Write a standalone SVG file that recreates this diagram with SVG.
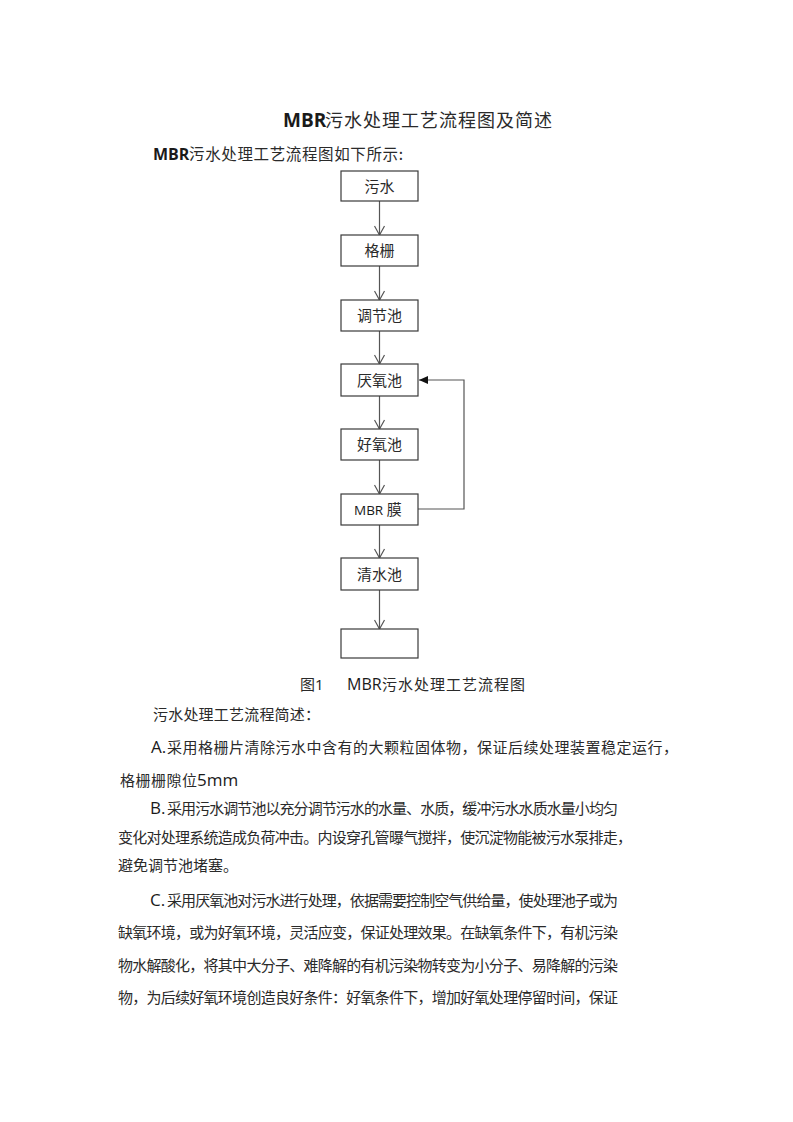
<svg xmlns="http://www.w3.org/2000/svg" width="793" height="1122" viewBox="0 0 793 1122">
<style>
.cn{font-family:"Noto Sans CJK SC","Noto Sans",sans-serif;fill:#2a2a2a;}
.lat{font-family:"Open Sans","Liberation Sans",sans-serif;fill:#1a1a1a;}
.box{fill:#fff;stroke:#3a3a3a;stroke-width:1.2;}
.bt{font-family:"Noto Sans CJK SC",sans-serif;font-size:15px;fill:#2a2a2a;text-anchor:middle;}
.ln{stroke:#555;stroke-width:1.2;fill:none;}
</style>
<defs>
<marker id="open" markerWidth="12" markerHeight="12" refX="10" refY="6" orient="auto" markerUnits="userSpaceOnUse">
<path d="M1,1 L10,6 L1,11" fill="none" stroke="#555" stroke-width="1.2"/>
</marker>
<marker id="fill" markerWidth="12" markerHeight="12" refX="10" refY="6" orient="auto" markerUnits="userSpaceOnUse">
<path d="M1,2 L10,6 L1,10 Z" fill="#111"/>
</marker>
</defs>
<rect width="793" height="1122" fill="#fff"/>

<text class="lat" x="283" y="127" font-size="19" font-weight="bold">MBR</text>
<text class="cn" x="325" y="127" font-size="18" textLength="227" lengthAdjust="spacing">污水处理工艺流程图及简述</text>

<text class="lat" x="153" y="160" font-size="16" font-weight="bold">MBR</text>
<text class="cn" x="189" y="160" font-size="15.5" textLength="214" lengthAdjust="spacing">污水处理工艺流程图如下所示:</text>

<g id="connectors">
<line class="ln" x1="379.5" y1="201" x2="379.5" y2="235" marker-end="url(#open)"/>
<line class="ln" x1="379.5" y1="266" x2="379.5" y2="300" marker-end="url(#open)"/>
<line class="ln" x1="379.5" y1="331" x2="379.5" y2="364" marker-end="url(#open)"/>
<line class="ln" x1="379.5" y1="396" x2="379.5" y2="429" marker-end="url(#open)"/>
<line class="ln" x1="379.5" y1="460" x2="379.5" y2="494" marker-end="url(#open)"/>
<line class="ln" x1="379.5" y1="525" x2="379.5" y2="558" marker-end="url(#open)"/>
<line class="ln" x1="379.5" y1="590" x2="379.5" y2="629" marker-end="url(#open)"/>
<path class="ln" d="M418,509 H464 V380 H419" marker-end="url(#fill)"/>
</g>

<g id="n1"><rect class="box" x="341" y="171" width="77" height="30"/><text class="bt" x="379.5" y="191.5">污水</text></g>
<g id="n2"><rect class="box" x="341" y="235" width="77" height="31"/><text class="bt" x="379.5" y="256">格栅</text></g>
<g id="n3"><rect class="box" x="341" y="300" width="77" height="31"/><text class="bt" x="379.5" y="321">调节池</text></g>
<g id="n4"><rect class="box" x="341" y="364" width="77" height="32"/><text class="bt" x="379.5" y="385.5">厌氧池</text></g>
<g id="n5"><rect class="box" x="341" y="429" width="77" height="31"/><text class="bt" x="379.5" y="450">好氧池</text></g>
<g id="n6"><rect class="box" x="341" y="494" width="77" height="31"/><text x="354" y="515"><tspan class="lat" font-size="13.5">MBR </tspan><tspan class="cn" font-size="15">膜</tspan></text></g>
<g id="n7"><rect class="box" x="341" y="558" width="77" height="32"/><text class="bt" x="379.5" y="579.5">清水池</text></g>
<g id="n8"><rect class="box" x="341" y="629" width="77" height="29"/></g>

<text class="cn" x="300" y="690" font-size="15">图</text>
<text class="lat" x="315" y="690" font-size="15">1</text>
<text class="lat" x="347" y="690" font-size="16">MBR</text>
<text class="cn" x="382" y="690" font-size="15" textLength="143" lengthAdjust="spacing">污水处理工艺流程图</text>

<text class="cn" x="153" y="720" font-size="15" textLength="167" lengthAdjust="spacing">污水处理工艺流程简述：</text>

<text class="lat" x="151" y="753" font-size="17">A.</text>
<text class="cn" x="167" y="753" font-size="15" textLength="511" lengthAdjust="spacing">采用格栅片清除污水中含有的大颗粒固体物，保证后续处理装置稳定运行，</text>
<text class="cn" x="120" y="786" font-size="15" textLength="77" lengthAdjust="spacing">格栅栅隙位</text>
<text class="lat" x="197" y="786" font-size="17">5mm</text>

<text class="lat" x="150" y="814" font-size="17">B.</text>
<text class="cn" x="167" y="814" font-size="15" textLength="451" lengthAdjust="spacing">采用污水调节池以充分调节污水的水量、水质，缓冲污水水质水量小均匀</text>
<text class="cn" x="118" y="843" font-size="15" textLength="514" lengthAdjust="spacing">变化对处理系统造成负荷冲击。内设穿孔管曝气搅拌，使沉淀物能被污水泵排走，</text>
<text class="cn" x="118" y="871" font-size="15">避免调节池堵塞。</text>

<text class="lat" x="150" y="906" font-size="17">C.</text>
<text class="cn" x="167" y="906" font-size="15" textLength="451" lengthAdjust="spacing">采用厌氧池对污水进行处理，依据需要控制空气供给量，使处理池子或为</text>
<text class="cn" x="118" y="938" font-size="15" textLength="500" lengthAdjust="spacing">缺氧环境，或为好氧环境，灵活应变，保证处理效果。在缺氧条件下，有机污染</text>
<text class="cn" x="118" y="971" font-size="15" textLength="500" lengthAdjust="spacing">物水解酸化，将其中大分子、难降解的有机污染物转变为小分子、易降解的污染</text>
<text class="cn" x="118" y="1003" font-size="15" textLength="500" lengthAdjust="spacing">物，为后续好氧环境创造良好条件：好氧条件下，增加好氧处理停留时间，保证</text>
</svg>
